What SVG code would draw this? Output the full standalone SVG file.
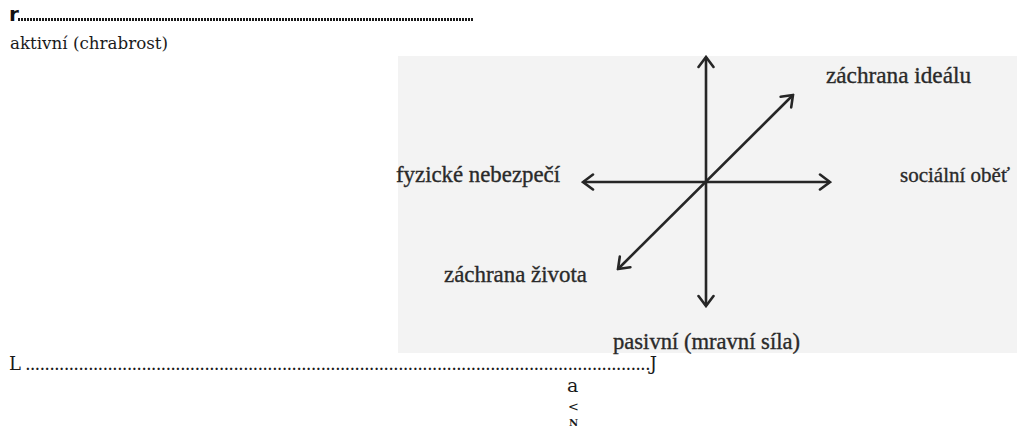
<svg xmlns="http://www.w3.org/2000/svg" width="1017" height="432" viewBox="0 0 1017 432">
  <style>
    .scan { font-family: "Liberation Serif", "DejaVu Serif", serif; font-size: 23px; fill: #2a2a2a; stroke: #2a2a2a; stroke-width: 0.35; }
    .ocr { font-family: "DejaVu Serif", "Liberation Serif", serif; fill: #1a1a1a; }
    .axis { stroke: #262626; stroke-width: 2.6; fill: none; marker-start: url(#chev); marker-end: url(#chev); }
  </style>
  <defs>
    <marker id="chev" markerUnits="userSpaceOnUse" viewBox="-14 -10 16 20" refX="0" refY="0" markerWidth="16" markerHeight="20" orient="auto-start-reverse">
      <path d="M-10,-7.5 L0,0 L-10,7.5" fill="none" stroke="#262626" stroke-width="2.6" stroke-linecap="round" stroke-linejoin="miter"/>
    </marker>
  </defs>

  <rect width="1017" height="432" fill="#ffffff"/>

  <!-- scanned page background -->
  <g id="scan-background">
    <rect x="398" y="56" width="619" height="297" fill="#f3f3f3"/>
  </g>

  <!-- OCR frame marks -->
  <g id="frame-top">
    <text x="9" y="20.5" style="font-family: 'DejaVu Sans', sans-serif; font-weight: bold; font-size: 20px; fill: #111;">r</text>
    <line x1="18" y1="19.5" x2="474" y2="19.5" stroke="#1a1a1a" stroke-width="3" stroke-dasharray="2 1"/>
  </g>
  <g id="label-aktivni">
    <text class="ocr" x="10" y="49" font-size="16" textLength="158" lengthAdjust="spacingAndGlyphs">aktivní (chrabrost)</text>
  </g>
  <g id="frame-bottom">
    <text class="ocr" x="9" y="370" font-size="18" textLength="648" lengthAdjust="spacing">L .................................................................................................................................J</text>
  </g>
  <g id="mark-a">
    <text class="ocr" x="567" y="392" font-size="19">a</text>
  </g>
  <g id="mark-lt">
    <text class="ocr" x="568" y="411" font-size="13">&lt;</text>
  </g>
  <g id="mark-n">
    <text class="ocr" x="569" y="426" font-size="10" font-weight="bold">N</text>
  </g>

  <!-- connectors -->
  <g id="connectors">
    <line class="axis" x1="706" y1="306" x2="706" y2="57"/>
    <line class="axis" x1="583" y1="182" x2="830" y2="182"/>
    <line class="axis" x1="618" y1="269" x2="793" y2="95"/>
  </g>

  <!-- labels -->
  <g id="node-zachrana-idealu">
    <text class="scan" x="826" y="83" textLength="145" lengthAdjust="spacingAndGlyphs">záchrana ideálu</text>
  </g>
  <g id="node-fyzicke-nebezpeci">
    <text class="scan" x="396" y="182" textLength="164" lengthAdjust="spacingAndGlyphs">fyzické nebezpečí</text>
  </g>
  <g id="node-socialni-obet">
    <text class="scan" x="900" y="182" style="font-size: 21px;">sociální oběť</text>
  </g>
  <g id="node-zachrana-zivota">
    <text class="scan" x="444" y="282" textLength="143" lengthAdjust="spacingAndGlyphs">záchrana života</text>
  </g>
  <g id="node-pasivni">
    <text class="scan" x="613" y="349" textLength="187" lengthAdjust="spacingAndGlyphs">pasivní (mravní síla)</text>
  </g>
</svg>
